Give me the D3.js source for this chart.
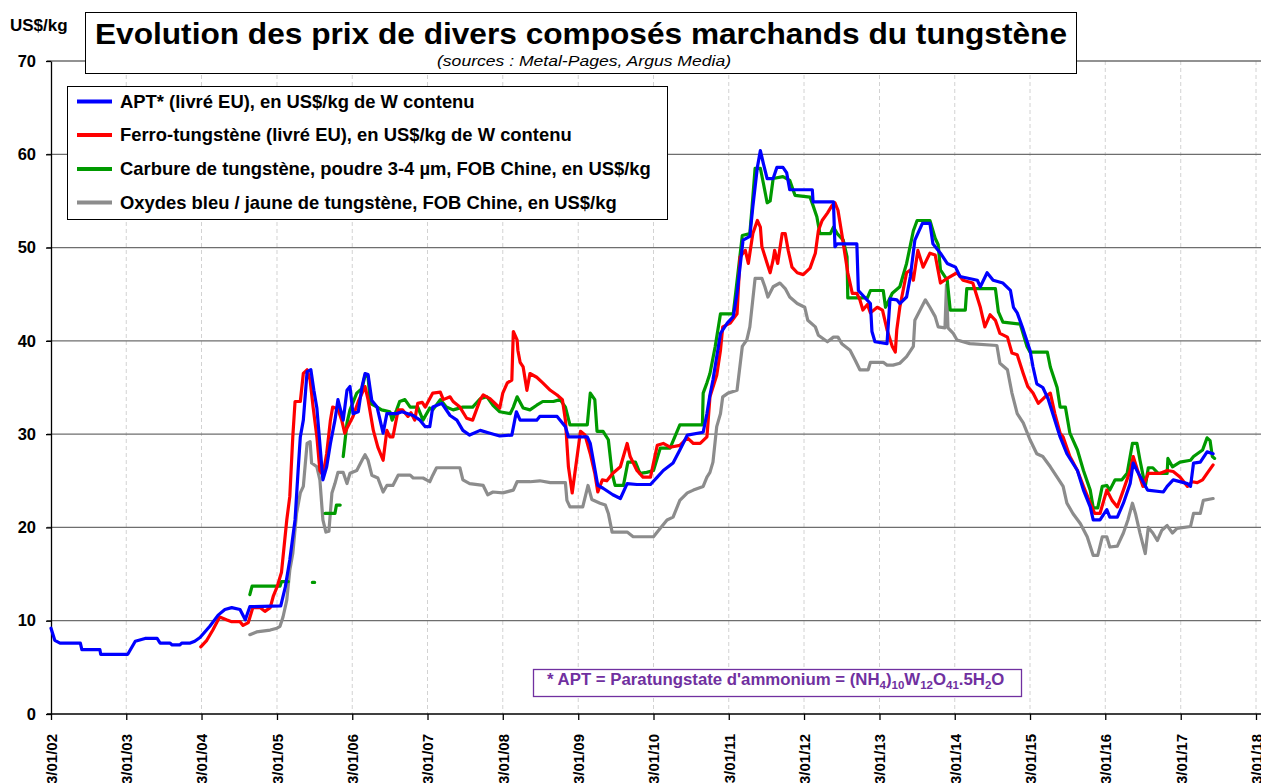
<!DOCTYPE html>
<html>
<head>
<meta charset="utf-8">
<script src="https://cdn.jsdelivr.net/npm/d3@7"></script>
<style>
  body { margin: 0; background: #fff; }
  svg text { font-family: Arial, "Liberation Sans", sans-serif; }
</style>
</head>
<body>
<svg id="chart" width="1261" height="783"></svg>
<script>
// values: [decimal year (from 3 Jan), US$/kg]
const aptData = [
  [2002.00,9.2],[2002.05,7.9],[2002.12,7.6],[2002.39,7.6],[2002.41,6.9],[2002.65,6.9],[2002.66,6.4],[2003.02,6.4],
  [2003.12,7.8],[2003.25,8.1],[2003.41,8.1],[2003.45,7.6],[2003.58,7.6],[2003.61,7.4],[2003.71,7.4],[2003.74,7.6],
  [2003.85,7.6],[2003.91,7.8],[2003.98,8.2],[2004.11,9.4],[2004.22,10.6],[2004.31,11.2],[2004.40,11.4],[2004.51,11.2],
  [2004.58,10.1],[2004.64,11.5],[2005.05,11.6],[2005.11,13.6],[2005.17,16.5],[2005.24,20.8],[2005.28,26],[2005.31,29.7],
  [2005.35,31.5],[2005.40,36.7],[2005.45,36.9],[2005.49,34.7],[2005.53,32.8],[2005.61,25.1],[2005.66,26.5],[2005.71,29],
  [2005.77,31.5],[2005.81,33.7],[2005.88,31.5],[2005.93,34.7],[2005.97,35.1],[2006.01,32.2],[2006.08,32.4],[2006.13,35.1],
  [2006.17,36.5],[2006.21,36.4],[2006.26,33.6],[2006.33,32.9],[2006.41,30.1],[2006.46,32.2],[2006.59,32.2],[2006.66,32.4],
  [2006.81,32.0],[2006.90,31.5],[2006.97,30.8],[2007.03,30.8],[2007.07,32.9],[2007.19,33.3],[2007.30,32.0],[2007.39,31.5],
  [2007.47,30.4],[2007.56,29.9],[2007.70,30.4],[2007.83,30.1],[2007.96,29.8],[2008.12,29.9],[2008.18,32.4],[2008.23,31.5],
  [2008.45,31.5],[2008.49,31.9],[2008.72,31.9],[2008.83,30.8],[2008.87,29.7],[2009.12,29.7],[2009.16,29.0],[2009.20,27.2],
  [2009.26,24.5],[2009.33,24.2],[2009.46,23.5],[2009.56,23.1],[2009.65,24.7],[2009.78,24.6],[2009.96,24.6],[2010.05,25.4],
  [2010.13,26.1],[2010.26,26.9],[2010.35,28.3],[2010.45,29.9],[2010.66,30.2],[2010.71,32.2],[2010.75,34.2],[2010.79,35.8],
  [2010.89,40.8],[2010.98,41.9],[2011.06,42.6],[2011.11,45.1],[2011.19,50.8],[2011.28,51.2],[2011.32,54.4],[2011.38,58.6],
  [2011.42,60.4],[2011.46,59.0],[2011.51,57.4],[2011.59,57.4],[2011.64,58.6],[2011.72,58.6],[2011.77,58.0],[2011.81,56.2],
  [2012.11,56.2],[2012.12,54.9],[2012.39,54.9],[2012.41,50.1],[2012.44,50.4],[2012.70,50.4],[2012.72,45.4],[2012.88,44.0],
  [2012.90,41.0],[2012.94,39.9],[2013.10,39.7],[2013.14,44.5],[2013.23,44.4],[2013.27,44.0],[2013.36,44.7],[2013.41,46.9],
  [2013.47,50.8],[2013.57,52.6],[2013.67,52.6],[2013.71,50.4],[2013.81,49.4],[2013.90,48.3],[2014.01,47.9],[2014.07,46.9],
  [2014.30,46.5],[2014.34,45.8],[2014.43,47.3],[2014.51,46.5],[2014.64,46.2],[2014.74,45.4],[2014.78,43.6],[2014.83,43.0],
  [2014.91,41.2],[2015.00,39.0],[2015.04,37.2],[2015.09,35.4],[2015.17,35.0],[2015.24,33.8],[2015.31,32.0],[2015.40,29.7],
  [2015.49,27.9],[2015.63,26.1],[2015.71,24.0],[2015.80,22.2],[2015.84,20.8],[2015.93,20.8],[2016.02,21.9],[2016.06,21.1],
  [2016.16,21.1],[2016.24,22.6],[2016.33,24.7],[2016.37,26.9],[2016.42,26.1],[2016.56,24.0],[2016.77,23.8],[2016.82,24.4],
  [2016.90,25.1],[2017.09,24.7],[2017.13,24.4],[2017.17,26.9],[2017.26,27.0],[2017.35,28.1],[2017.43,27.9]
];

const ferroData = [
  [2003.99,7.2],[2004.07,7.9],[2004.15,9.0],[2004.24,10.4],[2004.33,10.1],[2004.40,9.9],[2004.51,9.9],[2004.55,9.5],
  [2004.62,9.8],[2004.68,11.4],[2004.78,11.4],[2004.84,11.0],[2004.91,11.4],[2004.95,12.6],[2005.00,13.6],[2005.06,15.2],
  [2005.13,20.8],[2005.17,23.3],[2005.21,29.7],[2005.24,33.5],[2005.31,33.5],[2005.35,36.5],[2005.40,36.9],[2005.44,35.8],
  [2005.48,32.9],[2005.53,29.7],[2005.57,26.1],[2005.61,25.6],[2005.66,27.9],[2005.71,31.5],[2005.74,32.9],[2005.81,32.7],
  [2005.86,31.5],[2005.90,30.1],[2005.94,30.8],[2006.01,31.9],[2006.08,33.5],[2006.17,35.1],[2006.21,33.7],[2006.28,30.4],
  [2006.34,28.6],[2006.41,27.2],[2006.46,30.4],[2006.50,29.7],[2006.54,29.7],[2006.61,32.6],[2006.67,32.6],[2006.74,31.9],
  [2006.78,32.3],[2006.83,31.5],[2006.87,33.3],[2006.93,33.4],[2006.97,32.9],[2007.07,34.4],[2007.17,34.5],[2007.21,33.7],
  [2007.30,34.0],[2007.34,33.5],[2007.43,32.9],[2007.52,31.7],[2007.60,31.5],[2007.70,33.7],[2007.74,34.2],[2007.83,33.8],
  [2007.96,32.8],[2008.00,34.4],[2008.06,35.5],[2008.12,35.8],[2008.14,41.0],[2008.19,40.1],[2008.20,39.0],[2008.23,37.7],
  [2008.27,37.2],[2008.32,34.7],[2008.36,36.5],[2008.45,36.1],[2008.53,35.5],[2008.63,34.7],[2008.72,34.2],[2008.79,33.7],
  [2008.83,31.5],[2008.87,26.5],[2008.92,23.7],[2008.96,26.1],[2009.03,30.3],[2009.09,29.9],[2009.16,27.9],[2009.22,25.8],
  [2009.26,23.8],[2009.32,25.1],[2009.38,25.0],[2009.46,25.8],[2009.56,26.5],[2009.65,29.0],[2009.69,27.6],[2009.78,26.1],
  [2009.86,25.4],[2009.96,25.4],[2010.05,28.8],[2010.13,29.0],[2010.22,28.6],[2010.35,28.8],[2010.45,29.6],[2010.53,29.0],
  [2010.62,29.0],[2010.71,29.7],[2010.75,34.0],[2010.84,36.3],[2010.89,39.0],[2010.92,41.5],[2011.02,41.9],[2011.11,42.9],
  [2011.15,49.0],[2011.22,49.7],[2011.26,48.3],[2011.32,51.5],[2011.38,52.9],[2011.42,52.2],[2011.44,50.1],[2011.51,48.3],
  [2011.55,47.3],[2011.59,48.7],[2011.61,49.7],[2011.65,48.3],[2011.71,51.5],[2011.75,51.5],[2011.79,49.7],[2011.84,47.9],
  [2011.91,47.3],[2011.99,47.1],[2012.08,47.8],[2012.15,49.4],[2012.19,51.8],[2012.24,52.9],[2012.31,53.7],[2012.37,54.5],
  [2012.41,54.8],[2012.45,54.0],[2012.50,51.5],[2012.54,49.4],[2012.58,47.3],[2012.64,45.1],[2012.70,45.1],[2012.74,44.4],
  [2012.78,43.3],[2012.84,43.9],[2012.88,43.0],[2012.97,43.6],[2013.04,43.3],[2013.10,41.2],[2013.17,39.4],[2013.21,38.8],
  [2013.23,41.2],[2013.27,43.6],[2013.36,47.3],[2013.41,47.6],[2013.45,46.5],[2013.51,49.7],[2013.58,47.9],[2013.67,49.4],
  [2013.74,49.2],[2013.81,46.2],[2013.90,46.7],[2014.03,47.3],[2014.11,46.5],[2014.24,46.2],[2014.34,43.6],[2014.40,41.5],
  [2014.47,42.8],[2014.54,42.2],[2014.60,40.8],[2014.70,40.4],[2014.76,38.7],[2014.83,38.5],[2014.91,36.5],[2014.97,35.1],
  [2015.04,34.4],[2015.11,33.3],[2015.20,34.0],[2015.27,34.4],[2015.33,32.2],[2015.40,30.1],[2015.44,29.7],[2015.53,27.6],
  [2015.63,26.1],[2015.71,24.4],[2015.80,22.6],[2015.86,21.5],[2015.93,21.5],[2016.02,24.0],[2016.09,22.9],[2016.16,22.2],
  [2016.24,24.0],[2016.33,26.1],[2016.37,27.6],[2016.44,25.8],[2016.50,24.4],[2016.57,25.8],[2016.73,25.8],[2016.82,26.1],
  [2016.90,26.0],[2016.99,25.4],[2017.09,24.4],[2017.15,24.9],[2017.22,24.8],[2017.29,25.1],[2017.35,25.8],[2017.43,26.7]
];

// null values break the line
const carbideData = [
  [2004.64,12.8],[2004.67,13.7],[2005.04,13.7],[2005.06,14.2],[2005.15,14.2],[2005.16,null],
  [2005.47,14.1],[2005.50,14.1],[2005.51,null],
  [2005.64,21.5],[2005.77,21.5],[2005.79,22.4],[2005.84,22.4],[2005.85,null],
  [2005.88,27.6],[2005.90,29.0],[2005.93,31.2],[2005.97,32.6],[2006.06,34.4],[2006.13,34.9],[2006.17,36.3],[2006.21,36.2],
  [2006.24,33.3],[2006.33,32.9],[2006.39,32.6],[2006.50,32.4],[2006.53,31.5],[2006.59,32.6],[2006.63,33.5],[2006.70,33.7],
  [2006.77,32.9],[2006.87,32.9],[2006.94,31.5],[2007.03,32.8],[2007.07,32.6],[2007.17,33.7],[2007.25,32.9],[2007.34,32.6],
  [2007.47,32.9],[2007.60,32.9],[2007.70,33.8],[2007.79,34.0],[2007.87,33.1],[2007.96,32.4],[2008.10,32.2],[2008.14,32.9],
  [2008.19,34.0],[2008.27,32.8],[2008.36,32.6],[2008.45,33.1],[2008.53,33.5],[2008.67,33.5],[2008.76,33.7],[2008.83,32.9],
  [2008.89,31.0],[2009.12,31.0],[2009.16,34.4],[2009.22,33.7],[2009.25,30.3],[2009.33,30.3],[2009.40,29.4],[2009.45,25.8],
  [2009.49,24.5],[2009.60,24.5],[2009.66,27.0],[2009.76,27.0],[2009.82,25.8],[2009.91,25.9],[2010.00,26.1],[2010.09,28.5],
  [2010.22,28.5],[2010.35,31.0],[2010.65,31.0],[2010.66,34.4],[2010.71,35.5],[2010.75,36.5],[2010.82,39.4],[2010.89,42.9],
  [2011.06,42.9],[2011.18,51.3],[2011.28,51.5],[2011.31,54.4],[2011.35,58.5],[2011.42,58.5],[2011.46,56.9],[2011.51,54.8],
  [2011.55,55.0],[2011.59,57.4],[2011.72,57.6],[2011.81,57.2],[2011.88,55.6],[2012.08,55.4],[2012.12,54.5],[2012.17,53.3],
  [2012.21,51.5],[2012.35,51.5],[2012.39,52.2],[2012.44,51.5],[2012.52,50.8],[2012.57,49.0],[2012.58,44.6],[2012.84,44.6],
  [2012.88,45.4],[2013.05,45.4],[2013.08,43.6],[2013.17,45.1],[2013.27,45.8],[2013.36,48.3],[2013.45,51.8],[2013.50,52.9],
  [2013.67,52.9],[2013.74,51.0],[2013.78,50.3],[2013.81,47.6],[2013.90,46.5],[2013.94,43.3],[2014.14,43.3],[2014.16,45.6],
  [2014.54,45.6],[2014.58,43.1],[2014.64,42.0],[2014.87,41.8],[2014.96,39.4],[2015.00,38.8],[2015.23,38.8],[2015.27,37.2],
  [2015.36,35.0],[2015.40,32.9],[2015.47,32.9],[2015.53,30.1],[2015.63,28.3],[2015.71,26.1],[2015.80,24.0],[2015.84,22.1],
  [2015.90,22.1],[2015.96,24.4],[2016.02,24.5],[2016.06,24.0],[2016.13,25.1],[2016.22,25.1],[2016.29,25.8],[2016.36,29.0],
  [2016.42,29.0],[2016.46,27.2],[2016.53,24.4],[2016.57,26.4],[2016.63,26.4],[2016.70,25.8],[2016.82,25.8],[2016.83,27.4],
  [2016.89,26.5],[2016.99,27.0],[2017.13,27.2],[2017.17,27.6],[2017.29,28.3],[2017.35,29.6],[2017.39,29.3],[2017.42,27.6],
  [2017.45,27.4]
];

const oxideData = [
  [2004.64,8.5],[2004.73,8.8],[2004.91,9.0],[2005.00,9.2],[2005.04,9.4],[2005.08,10.4],[2005.13,12.2],[2005.17,15.4],
  [2005.21,17.2],[2005.26,21.5],[2005.31,23.7],[2005.35,24.4],[2005.40,29.0],[2005.44,29.2],[2005.46,26.9],[2005.53,26.5],
  [2005.57,25.1],[2005.61,20.8],[2005.65,19.5],[2005.69,19.6],[2005.73,23.7],[2005.77,24.7],[2005.81,25.9],[2005.88,25.9],
  [2005.93,24.7],[2005.97,25.8],[2006.06,26.1],[2006.13,27.2],[2006.17,27.8],[2006.21,27.2],[2006.26,25.6],[2006.34,25.3],
  [2006.41,23.8],[2006.46,24.5],[2006.54,24.5],[2006.61,25.6],[2006.77,25.6],[2006.81,25.3],[2006.94,25.3],[2007.03,24.9],
  [2007.07,25.6],[2007.12,26.4],[2007.43,26.4],[2007.47,25.1],[2007.56,24.7],[2007.74,24.5],[2007.80,23.5],[2007.87,23.8],
  [2008.00,23.7],[2008.14,24.0],[2008.19,24.9],[2008.36,24.9],[2008.49,25.0],[2008.63,24.8],[2008.83,24.8],[2008.85,22.9],
  [2008.89,22.2],[2009.06,22.2],[2009.13,24.5],[2009.18,23.0],[2009.29,22.6],[2009.36,22.4],[2009.40,21.5],[2009.45,19.5],
  [2009.65,19.5],[2009.73,19.0],[2010.00,19.0],[2010.09,19.9],[2010.18,20.8],[2010.26,21.1],[2010.35,22.9],[2010.45,23.7],
  [2010.53,24.0],[2010.66,24.4],[2010.71,25.4],[2010.75,25.9],[2010.79,27.0],[2010.84,30.8],[2010.89,32.2],[2010.92,34.0],
  [2010.99,34.4],[2011.11,34.7],[2011.18,39.4],[2011.24,40.1],[2011.28,41.5],[2011.35,46.7],[2011.44,46.7],[2011.48,45.8],
  [2011.52,44.7],[2011.59,45.8],[2011.68,46.2],[2011.75,45.6],[2011.81,44.7],[2011.91,44.0],[2012.01,43.6],[2012.05,42.2],
  [2012.15,41.5],[2012.19,40.6],[2012.31,39.9],[2012.39,40.4],[2012.45,40.4],[2012.50,39.7],[2012.61,39.0],[2012.68,37.9],
  [2012.74,36.9],[2012.85,36.9],[2012.88,37.7],[2013.05,37.7],[2013.10,37.4],[2013.18,37.4],[2013.27,37.6],[2013.36,38.3],
  [2013.45,39.4],[2013.47,42.2],[2013.54,43.3],[2013.61,44.4],[2013.67,43.6],[2013.74,42.6],[2013.78,41.5],[2013.87,41.4],
  [2013.89,46.0],[2013.91,41.4],[2013.98,40.8],[2014.03,40.1],[2014.20,39.7],[2014.56,39.5],[2014.60,37.6],[2014.70,36.9],
  [2014.76,34.4],[2014.83,32.2],[2014.91,31.2],[2015.00,29.4],[2015.09,27.9],[2015.17,27.6],[2015.27,26.5],[2015.36,25.4],
  [2015.44,24.4],[2015.49,22.6],[2015.57,21.5],[2015.67,20.4],[2015.76,19.0],[2015.84,17.0],[2015.90,17.0],[2015.96,19.0],
  [2016.02,19.0],[2016.06,17.9],[2016.16,18.0],[2016.24,19.4],[2016.30,20.8],[2016.36,22.6],[2016.40,21.5],[2016.46,19.4],
  [2016.53,17.2],[2016.57,20.0],[2016.63,19.4],[2016.69,18.6],[2016.75,19.7],[2016.82,20.2],[2016.89,19.4],[2016.95,19.9],
  [2017.13,20.1],[2017.17,21.5],[2017.26,21.5],[2017.30,22.9],[2017.43,23.1]
];

const seriesNames = [
  'APT* (livré EU), en US$/kg de W contenu',
  'Ferro-tungstène (livré EU), en US$/kg de W contenu',
  'Carbure de tungstène, poudre 3-4 µm, FOB Chine, en US$/kg',
  'Oxydes bleu / jaune de tungstène, FOB Chine, en US$/kg'
];
const seriesColors = ['#0000ff', '#ff0000', '#009a00', '#8c8c8c'];
const tickYears = d3.range(2002, 2019);
const yTicks = d3.range(0, 71, 10);
const titleText = 'Evolution des prix de divers composés marchands du tungstène';
const subtitleText = '(sources : Metal-Pages, Argus Media)';
const unitText = 'US$/kg';

const width = 1261;
const height = 783;
const svg = d3.select('#chart');

// decimal year counted from the 3 January tick
function toDate(v) {
    const yr = Math.floor(v);
    const start = new Date(yr, 0, 3);
    const next = new Date(yr + 1, 0, 3);
    return new Date(+start + (v - yr) * (next - start));
}

const x = d3.scaleTime()
            .domain([new Date(2002, 0, 3), new Date(2018, 0, 3)])
            .range([51, 1256]);
const y = d3.scaleLinear()
            .domain([0, 70])
            .range([714, 61]);

const tickDates = tickYears.map(yr => new Date(yr, 0, 3));

// vertical dashed grid
svg.append('g')
   .selectAll('line')
   .data(tickDates.slice(1))
   .enter()
   .append('line')
   .attr('x1', d => x(d)).attr('x2', d => x(d))
   .attr('y1', y(70)).attr('y2', y(0))
   .attr('stroke', '#d2d2d2')
   .attr('stroke-width', 1)
   .attr('stroke-dasharray', '4,3');

// horizontal grid
svg.append('g')
   .selectAll('line')
   .data(yTicks.slice(1))
   .enter()
   .append('line')
   .attr('x1', 47).attr('x2', width)
   .attr('y1', d => y(d)).attr('y2', d => y(d))
   .attr('stroke', '#6e6e6e')
   .attr('stroke-width', 1.3);

// y axis
const yAxis = svg.append('g')
                 .attr('transform', 'translate(51,0)')
                 .call(d3.axisLeft(y).tickValues(yTicks).tickSize(5).tickPadding(10).tickSizeOuter(0));
yAxis.select('.domain').attr('stroke', '#000').attr('stroke-width', 1.3);
yAxis.selectAll('.tick line').attr('stroke', '#000').attr('stroke-width', 1.3);
yAxis.selectAll('text')
     .attr('font-size', 16.5)
     .attr('font-weight', 'bold')
     .attr('fill', '#000');

// x axis
const fmt = d3.timeFormat('%-d/%m/%y');
const xAxis = svg.append('g')
                 .attr('transform', 'translate(0,' + y(0) + ')')
                 .call(d3.axisBottom(x).tickValues(tickDates).tickFormat(fmt).tickSize(6).tickSizeOuter(0));
xAxis.select('.domain').remove();
xAxis.selectAll('.tick line').attr('stroke', '#000').attr('stroke-width', 1.3);
xAxis.selectAll('text')
     .attr('transform', 'rotate(-90)')
     .attr('text-anchor', 'end')
     .attr('x', -20)
     .attr('y', 0)
     .attr('dy', '0.36em')
     .attr('font-size', 15)
     .attr('font-weight', 'bold')
     .attr('fill', '#000');
svg.append('line')
   .attr('x1', 47).attr('x2', width)
   .attr('y1', y(0)).attr('y2', y(0))
   .attr('stroke', '#000')
   .attr('stroke-width', 1.3);

// series
const line = d3.line()
               .defined(d => d[1] !== null)
               .x(d => x(toDate(d[0])))
               .y(d => y(d[1]));

const allSeries = [oxideData, carbideData, ferroData, aptData];
const drawColors = [seriesColors[3], seriesColors[2], seriesColors[1], seriesColors[0]];
svg.append('g')
   .selectAll('path')
   .data(allSeries)
   .enter()
   .append('path')
   .attr('d', d => line(d))
   .attr('fill', 'none')
   .attr('stroke', (d, i) => drawColors[i])
   .attr('stroke-width', 3.2)
   .attr('stroke-linejoin', 'round')
   .attr('stroke-linecap', 'round');

// unit label
svg.append('text')
   .attr('x', 10).attr('y', 31)
   .attr('font-size', 17)
   .attr('font-weight', 'bold')
   .text(unitText);

// title box
svg.append('rect')
   .attr('x', 85.5).attr('y', 12.5)
   .attr('width', 991).attr('height', 61)
   .attr('fill', '#fff')
   .attr('stroke', '#000')
   .attr('stroke-width', 1);
svg.append('text')
   .attr('x', 581).attr('y', 43.5)
   .attr('text-anchor', 'middle')
   .attr('font-size', 30)
   .attr('font-weight', 'bold')
   .attr('textLength', 972)
   .attr('lengthAdjust', 'spacingAndGlyphs')
   .text(titleText);
svg.append('text')
   .attr('x', 584).attr('y', 66)
   .attr('text-anchor', 'middle')
   .attr('font-size', 15)
   .attr('font-style', 'italic')
   .attr('textLength', 294)
   .attr('lengthAdjust', 'spacingAndGlyphs')
   .text(subtitleText);

// legend
const legend = svg.append('g');
legend.append('rect')
      .attr('x', 67.5).attr('y', 86.5)
      .attr('width', 600).attr('height', 133)
      .attr('fill', '#fff')
      .attr('stroke', '#000')
      .attr('stroke-width', 1);
const legendRows = [101.5, 135, 169, 202.5];
const items = legend.selectAll('.item')
                    .data(seriesNames)
                    .enter()
                    .append('g')
                    .attr('class', 'item')
                    .attr('transform', (d, i) => 'translate(0,' + legendRows[i] + ')');
items.append('line')
     .attr('x1', 77).attr('x2', 112)
     .attr('stroke', (d, i) => seriesColors[i])
     .attr('stroke-width', 4);
items.append('text')
     .attr('x', 120)
     .attr('dy', '0.35em')
     .attr('font-size', 18.4)
     .attr('font-weight', 'bold')
     .text(d => d);

// APT note
const note = svg.append('g');
note.append('rect')
    .attr('x', 533.5).attr('y', 669.5)
    .attr('width', 488).attr('height', 27)
    .attr('fill', '#fff')
    .attr('stroke', '#7030a0')
    .attr('stroke-width', 1.3);
const noteParts = [
  ['* APT = Paratungstate d\'ammonium = (NH', false], ['4', true], [')', false], ['10', true],
  ['W', false], ['12', true], ['O', false], ['41', true], ['.5H', false], ['2', true], ['O', false]
];
const noteText = note.append('text')
                     .attr('x', 547).attr('y', 684.5)
                     .attr('font-family', '"Open Sans", "Noto Sans", sans-serif')
                     .attr('font-size', 16.8)
                     .attr('font-weight', 'bold')
                     .attr('fill', '#7030a0');
let shifted = false;
noteParts.forEach(p => {
    const t = noteText.append('tspan').text(p[0]);
    if (p[1] && !shifted) { t.attr('dy', 4).attr('font-size', 11.5); shifted = true; }
    else if (p[1]) { t.attr('font-size', 11.5); }
    else if (shifted) { t.attr('dy', -4); shifted = false; }
});
</script>
</body>
</html>
